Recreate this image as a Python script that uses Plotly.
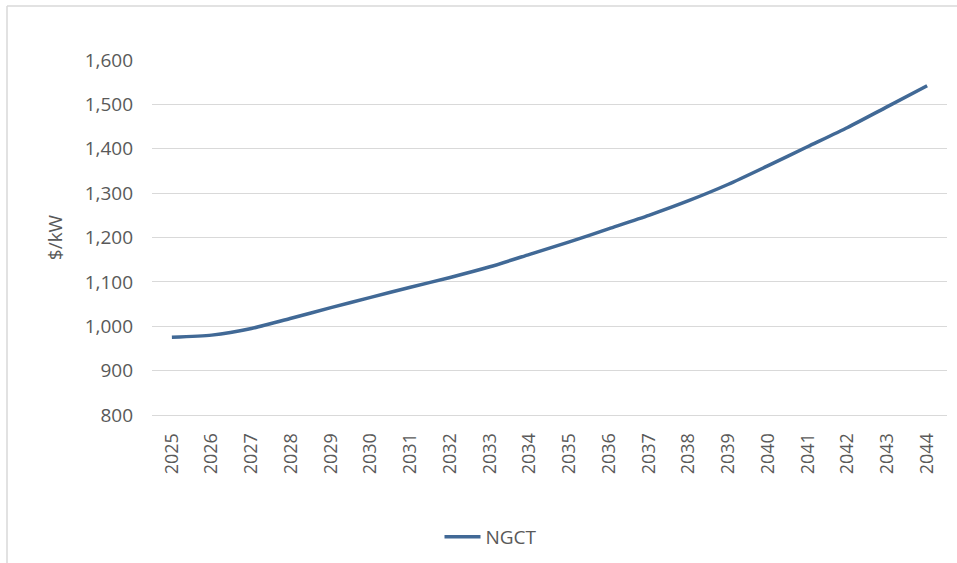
import plotly.graph_objects as go

years = [str(y) for y in range(2025, 2045)]
ngct = [975, 980, 995, 1018, 1042, 1065, 1088, 1110, 1134, 1162,
        1190, 1220, 1250, 1283, 1320, 1362, 1405, 1448, 1495, 1542]
y_ticks = [800, 900, 1000, 1100, 1200, 1300, 1400, 1500, 1600]
y_tick_text = ["800", "900", "1,000", "1,100", "1,200", "1,300", "1,400", "1,500", "1,600"]

FONT = "Open Sans"
GREY = "#595959"

fig = go.Figure()
fig.add_trace(go.Scatter(
    x=years, y=ngct, mode="lines", name="NGCT",
    line=dict(color="#416996", width=3.5, shape="spline", smoothing=0.6),
))

L, R, T, B = 152, 947, 60, 415
W, H = 957, 563
pw, ph = R - L, B - T

fig.update_layout(
    width=W, height=H,
    margin=dict(l=L, r=W - R, t=T, b=H - B, autoexpand=False),
    paper_bgcolor="white", plot_bgcolor="white",
    font=dict(family=FONT, size=19, color=GREY),
    showlegend=True,
    legend=dict(
        orientation="h", x=(491 - L) / pw, xanchor="center",
        y=(B - 537) / ph, yanchor="middle",
        font=dict(family=FONT, size=19, color=GREY),
        itemwidth=36,
    ),
    xaxis=dict(
        type="category", range=[-0.5, 19.5],
        tickangle=-90, showgrid=False, ticks="",
        showline=True, linecolor="#d9d9d9", linewidth=1,
        ticklabelstandoff=10,
        tickfont=dict(family=FONT, size=18, color=GREY),
    ),
    yaxis=dict(
        range=[800, 1600], tickvals=y_ticks, ticktext=y_tick_text,
        showgrid=True, gridcolor="#d9d9d9", gridwidth=1,
        zeroline=False, ticks="", ticklabelstandoff=18,
        tickfont=dict(family=FONT, size=19, color=GREY),
        title=dict(text="$/kW", standoff=16,
                   font=dict(family=FONT, size=19, color=GREY)),
    ),
    shapes=[
        dict(type="line", xref="paper", yref="paper",
             x0=(7 - L) / pw, x1=(W - L) / pw, y0=1 + (T - 6) / ph, y1=1 + (T - 6) / ph,
             line=dict(color="#d9d9d9", width=1.5)),
        dict(type="line", xref="paper", yref="paper",
             x0=(7 - L) / pw, x1=(7 - L) / pw, y0=1 + (T - 6) / ph, y1=(B - H) / ph,
             line=dict(color="#d9d9d9", width=1.5)),
    ],
)

fig.write_html("out.html")
